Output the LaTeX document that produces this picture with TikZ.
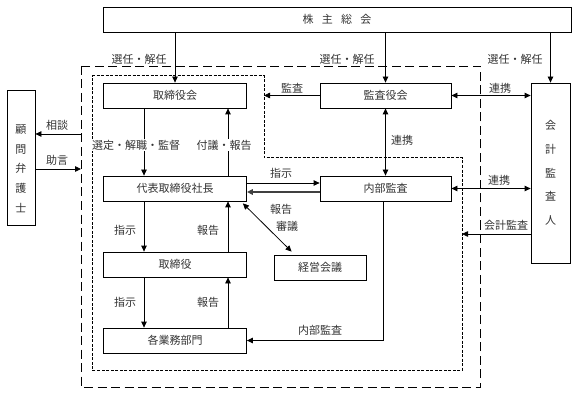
\documentclass[tikz,border=0pt]{standalone}
\usepackage{fontspec}
\setmainfont{Noto Sans CJK JP}
\usetikzlibrary{arrows.meta,calc}
\newcommand\jfs{\fontsize{11}{13}\selectfont}
\begin{document}
\begin{tikzpicture}[x=1pt,y=-1pt,
  box/.style={draw, line width=0.8pt, minimum width=#1, minimum height=25pt, inner sep=0pt, font=\jfs, text=black!80},
  lbl/.style={font=\jfs, text=black!80, inner sep=0.5pt},
  arr/.style={line width=0.8pt, -{Triangle[length=6pt,width=5.5pt]}},
  darr/.style={line width=0.8pt, {Triangle[length=6pt,width=5.5pt]}-{Triangle[length=6pt,width=5.5pt]}},
  outerline/.style={line width=0.9pt, dash pattern=on 9pt off 4.5pt},
  innerline/.style={line width=1pt, dash pattern=on 3pt off 1.5pt}]
\useasboundingbox (0,0) rectangle (576,393);
% frames
\draw[outerline] (81,66) rectangle (480,387);
\draw[innerline] (92,76) -- (264,76) -- (264,158) -- (462,158) -- (462,370) -- (92,370) -- cycle;
\coordinate (dotA) at (264,97);
\coordinate (dotB) at (462,234);
\coordinate (outA) at (81,134);
\coordinate (outB) at (81,169);
% boxes
\node[box=468pt] (kabu) at (337,19.5) {株\hspace{0.75em}主\hspace{0.75em}総\hspace{0.75em}会};
\node[box=143pt] (torikai) at (175,95.5) {取締役会};
\node[box=143pt] (daihyo) at (175,188.5) {代表取締役社長};
\node[box=143pt] (tori) at (175,264.5) {取締役};
\node[box=143pt] (kakugyo) at (175,340.5) {各業務部門};
\node[box=131pt] (kansayaku) at (385.5,95.5) {監査役会};
\node[box=131pt] (naibu) at (385.5,188.5) {内部監査};
\node[box=92pt] (keiei) at (320,267.5) {経営会議};
\node[draw, line width=0.8pt, minimum width=28pt, minimum height=135pt, inner sep=0pt] (komon) at (21,157.5) {};
\node[lbl, align=center, font=\fontsize{11}{19.7}\selectfont] (komontext) at (21,168.5) {顧\\問\\弁\\護\\士};
\node[draw, line width=0.8pt, minimum width=39pt, minimum height=180pt, inner sep=0pt, align=center, font=\fontsize{11}{23.7}\selectfont, text=black!80] (kaikei) at (550.5,173) {会\\計\\監\\査\\人};
% connectors
\draw[arr] (kabu.south -| torikai.north) -- (torikai.north);
\draw[arr] (kabu.south -| kansayaku.north) -- (kansayaku.north);
\draw[arr] (kabu.south -| kaikei.north) -- (kaikei.north);
\draw[arr] (kansayaku.west) -- (kansayaku.west -| dotA);
\draw[darr] (kansayaku.east) -- (kansayaku.east -| kaikei.west);
\draw[darr] (kansayaku.south) -- (naibu.north);
\draw[darr] (naibu.east) -- (naibu.east -| kaikei.west);
\draw[arr] (kaikei.west |- dotB) -- (dotB);
\draw[arr] ($(daihyo.east)+(0,-5.5)$) -- ($(daihyo.east -| naibu.west)+(0,-5.5)$);
\draw[arr, line width=1.4pt, black!75] ($(daihyo.east -| naibu.west)+(0,3.5)$) -- ($(daihyo.east)+(0,3.5)$);
\draw[arr] ($(torikai.south)+(-31,0)$) -- ($(daihyo.north)+(-31,0)$);
\draw[arr] ($(daihyo.north)+(53,0)$) -- ($(torikai.south)+(53,0)$);
\draw[arr] ($(daihyo.south)+(-31,0)$) -- ($(tori.north)+(-31,0)$);
\draw[arr] ($(tori.north)+(53,0)$) -- ($(daihyo.south)+(53,0)$);
\draw[arr] ($(tori.south)+(-31,0)$) -- ($(kakugyo.north)+(-31,0)$);
\draw[arr] ($(kakugyo.north)+(53,0)$) -- ($(tori.south)+(53,0)$);
\draw[darr] ($(daihyo.south east)+(-4,2)$) -- ($(keiei.north west)+(18,-3)$);
\draw[arr] ($(naibu.south)+(-2,0)$) |- (kakugyo.east);
\draw[arr] (outA) -- (outA -| komon.east);
\draw[arr] (outB -| komon.east) -- (outB);
% labels
\node[lbl] (l1) at (139,59) {選任・解任};
\node[lbl] (l2) at (347,59) {選任・解任};
\node[lbl] (l3) at (515,59) {選任・解任};
\node[lbl] (l4) at (292,88) {監査};
\node[lbl] (l5) at (500,88) {連携};
\node[lbl] (l6) at (402,140) {連携};
\node[lbl] (l7) at (499,180) {連携};
\node[lbl] (l8) at (506,225) {会計監査};
\node[lbl] (l9) at (57,125) {相談};
\node[lbl] (l10) at (57,160) {助言};
\node[lbl, fill=white] (l11) at (136,145) {選定・解職・監督};
\node[lbl, fill=white] (l12) at (224,145) {付議・報告};
\node[lbl] (l13) at (281,173) {指示};
\node[lbl] (l14) at (281,209) {報告};
\node[lbl] (l15) at (287,226) {審議};
\node[lbl] (l16) at (125,230) {指示};
\node[lbl] (l17) at (208,230) {報告};
\node[lbl] (l18) at (125,302) {指示};
\node[lbl] (l19) at (208,302) {報告};
\node[lbl] (l20) at (320,330) {内部監査};
\end{tikzpicture}
\end{document}
